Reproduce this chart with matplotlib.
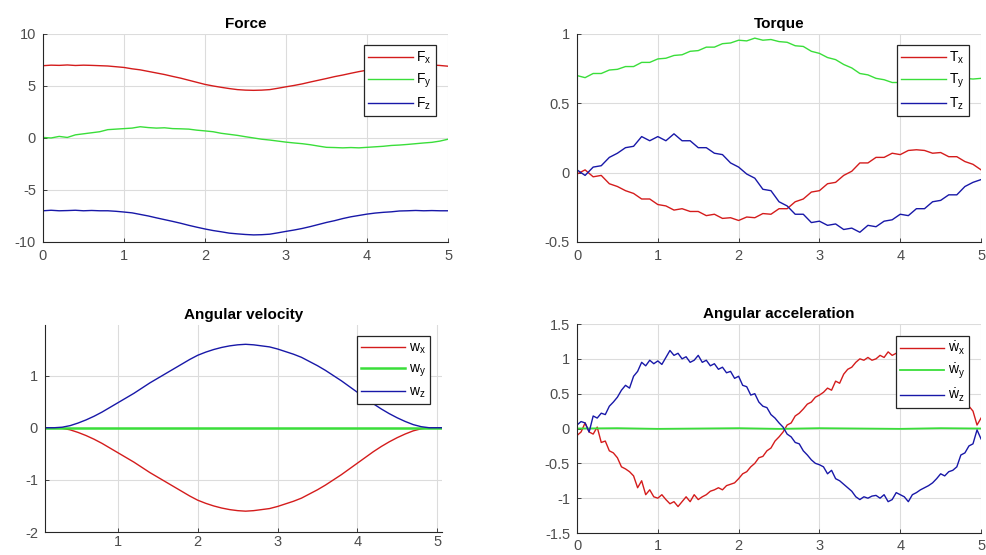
import matplotlib
matplotlib.use("Agg")
import matplotlib.pyplot as plt
from matplotlib.ticker import FormatStrFormatter

plt.rcParams["font.family"] = ["Liberation Sans", "DejaVu Sans"]
plt.rcParams["axes.unicode_minus"] = False
plt.rcParams["mathtext.fontset"] = "custom"
plt.rcParams["mathtext.rm"] = "Liberation Sans"

RED = "#d41c1c"
GREEN = "#3ade3a"
BLUE = "#1818a8"

# time grid for force / torque (0.1 s)
t = [round(0.1 * i, 2) for i in range(51)]

fx = [6.95, 7.0, 6.98, 7.02, 6.97, 7.0, 6.98, 6.95, 6.92, 6.85,
      6.78, 6.65, 6.55, 6.4, 6.25, 6.1, 5.92, 5.75, 5.55, 5.35,
      5.15, 5.0, 4.87, 4.75, 4.65, 4.6, 4.58, 4.6, 4.65, 4.78,
      4.92, 5.05, 5.2, 5.38, 5.55, 5.72, 5.9, 6.05, 6.22, 6.38,
      6.52, 6.65, 6.75, 6.85, 6.92, 6.96, 7.0, 6.98, 7.02, 6.97, 6.9]
fy = [0.05, 0.0, 0.15, 0.05, 0.3, 0.4, 0.5, 0.6, 0.8, 0.85,
      0.9, 0.95, 1.08, 1.0, 0.95, 0.98, 0.9, 0.88, 0.85, 0.75,
      0.68, 0.6, 0.45, 0.35, 0.25, 0.12, 0.0, -0.12, -0.2, -0.3,
      -0.4, -0.48, -0.55, -0.65, -0.78, -0.9, -0.92, -0.95, -0.92, -0.95,
      -0.9, -0.85, -0.8, -0.72, -0.68, -0.62, -0.55, -0.48, -0.42, -0.3, -0.12]
fz = [-7.0, -6.95, -7.0, -6.98, -6.95, -7.0, -6.97, -7.0, -7.0, -7.05,
      -7.12, -7.2, -7.35, -7.5, -7.68, -7.85, -8.02, -8.2, -8.4, -8.58,
      -8.75, -8.9, -9.02, -9.15, -9.22, -9.28, -9.32, -9.3, -9.25, -9.12,
      -8.98, -8.85, -8.7, -8.52, -8.32, -8.12, -7.95, -7.75, -7.58, -7.45,
      -7.32, -7.22, -7.15, -7.1, -7.02, -7.0, -6.97, -7.0, -6.98, -7.0, -7.0]

tx = [-0.01, 0.02, -0.03, -0.02, -0.08, -0.1, -0.13, -0.15, -0.19, -0.19,
      -0.23, -0.24, -0.27, -0.26, -0.28, -0.28, -0.31, -0.3, -0.33, -0.325,
      -0.345, -0.32, -0.325, -0.295, -0.3, -0.26, -0.26, -0.21, -0.19, -0.14,
      -0.13, -0.08, -0.07, -0.02, 0.01, 0.07, 0.07, 0.11, 0.11, 0.14,
      0.13, 0.16, 0.165, 0.16, 0.14, 0.145, 0.115, 0.115, 0.08, 0.06, 0.02]
ty = [0.7, 0.685, 0.715, 0.715, 0.74, 0.745, 0.765, 0.765, 0.795, 0.795,
      0.82, 0.825, 0.845, 0.85, 0.875, 0.88, 0.905, 0.905, 0.93, 0.935,
      0.955, 0.95, 0.97, 0.955, 0.96, 0.945, 0.94, 0.915, 0.91, 0.875,
      0.86, 0.83, 0.815, 0.78, 0.755, 0.715, 0.705, 0.68, 0.67, 0.65,
      0.65, 0.64, 0.655, 0.65, 0.665, 0.66, 0.675, 0.665, 0.68, 0.675, 0.68]
tz = [0.02, -0.02, 0.04, 0.05, 0.11, 0.14, 0.18, 0.19, 0.26, 0.23,
      0.26, 0.23, 0.28, 0.23, 0.23, 0.18, 0.18, 0.14, 0.13, 0.07,
      0.04, -0.01, -0.04, -0.12, -0.13, -0.21, -0.24, -0.3, -0.3, -0.36,
      -0.35, -0.38, -0.37, -0.41, -0.4, -0.43, -0.38, -0.39, -0.35, -0.34,
      -0.3, -0.31, -0.26, -0.26, -0.21, -0.2, -0.16, -0.16, -0.1, -0.07, -0.05]

# angular velocity (own time samples)
t_w = [0.08, 0.2, 0.3, 0.4, 0.5, 0.6, 0.7, 0.8, 0.9, 1.0,
       1.1, 1.2, 1.3, 1.4, 1.5, 1.6, 1.7, 1.8, 1.9, 2.0,
       2.1, 2.2, 2.3, 2.4, 2.5, 2.6, 2.7, 2.8, 2.9, 3.0,
       3.1, 3.2, 3.3, 3.4, 3.5, 3.6, 3.7, 3.8, 3.9, 4.0,
       4.1, 4.2, 4.3, 4.4, 4.5, 4.6, 4.7, 4.8, 4.9, 5.06]
wz = [0.0, 0.0, 0.01, 0.04, 0.09, 0.15, 0.22, 0.3, 0.39, 0.48,
      0.57, 0.66, 0.76, 0.86, 0.95, 1.04, 1.13, 1.22, 1.31, 1.39,
      1.45, 1.5, 1.54, 1.57, 1.59, 1.6, 1.59, 1.57, 1.55, 1.51,
      1.46, 1.41, 1.35, 1.27, 1.19, 1.1, 1.0, 0.9, 0.79, 0.68,
      0.57, 0.46, 0.36, 0.27, 0.19, 0.12, 0.06, 0.02, 0.0, 0.0]
wx = [0.0, 0.0, -0.01, -0.04, -0.09, -0.15, -0.22, -0.3, -0.39, -0.48,
      -0.57, -0.66, -0.76, -0.86, -0.95, -1.04, -1.13, -1.22, -1.31, -1.39,
      -1.45, -1.5, -1.54, -1.57, -1.59, -1.6, -1.59, -1.57, -1.55, -1.51,
      -1.46, -1.41, -1.35, -1.27, -1.19, -1.1, -1.0, -0.9, -0.79, -0.68,
      -0.57, -0.46, -0.36, -0.27, -0.19, -0.12, -0.06, -0.02, 0.0, 0.0]
t_wy = [0.08, 5.06]
wy = [0.0, 0.0]

# angular acceleration (0.05 s)
t_a = [round(0.05 * i, 2) for i in range(101)]
adx = [-0.1, -0.05, 0.08, -0.05, -0.08, 0.02, -0.2, -0.18, -0.32, -0.35,
       -0.42, -0.55, -0.58, -0.62, -0.68, -0.85, -0.75, -0.95, -0.88, -0.98,
       -1.0, -0.95, -1.02, -1.08, -1.05, -1.12, -1.05, -0.98, -1.05, -0.95,
       -1.02, -0.98, -0.95, -0.9, -0.88, -0.85, -0.88, -0.82, -0.8, -0.78,
       -0.72, -0.65, -0.62, -0.55, -0.5, -0.42, -0.4, -0.32, -0.28, -0.18,
       -0.12, -0.05, 0.05, 0.08, 0.18, 0.22, 0.28, 0.35, 0.38, 0.45,
       0.48, 0.52, 0.58, 0.55, 0.68, 0.65, 0.78, 0.85, 0.88, 0.95,
       1.0, 0.98, 1.02, 0.98, 1.0, 1.05, 1.02, 1.1, 1.05, 1.08,
       1.0, 0.98, 1.02, 0.95, 0.92, 0.88, 0.85, 0.8, 0.78, 0.7,
       0.68, 0.6, 0.55, 0.5, 0.45, 0.4, 0.3, 0.32, 0.25, 0.05, 0.15]
adz = [0.05, 0.1, 0.08, -0.05, 0.18, 0.15, 0.22, 0.2, 0.32, 0.38,
       0.45, 0.55, 0.62, 0.58, 0.75, 0.82, 0.95, 0.9, 0.98, 0.93,
       0.97, 0.92, 1.02, 1.12, 1.05, 1.08, 1.0, 1.03, 0.95, 0.98,
       1.05, 0.95, 0.98, 0.9, 0.93, 0.85, 0.88, 0.8, 0.82, 0.72,
       0.75, 0.62, 0.6, 0.48, 0.5, 0.38, 0.32, 0.3, 0.2, 0.15,
       0.08, 0.02, -0.08, -0.12, -0.2, -0.22, -0.32, -0.38, -0.45, -0.5,
       -0.52, -0.55, -0.65, -0.6, -0.72, -0.75, -0.8, -0.85, -0.9, -0.98,
       -1.02, -0.98, -1.0, -0.97, -0.96, -1.0, -0.95, -1.05, -1.02, -0.92,
       -0.95, -0.98, -1.05, -0.95, -0.92, -0.88, -0.85, -0.82, -0.78, -0.72,
       -0.65, -0.68, -0.62, -0.6, -0.55, -0.38, -0.35, -0.25, -0.22, -0.02, -0.15]
t_ay = [0.0, 0.5, 1.0, 1.5, 2.0, 2.5, 3.0, 3.5, 4.0, 4.5, 5.0]
ady = [0.0, 0.005, -0.005, 0.0, 0.005, -0.005, 0.005, 0.0, -0.005, 0.005, 0.0]


def style(ax, title, xlim, ylim, yticks, xticks):
    ax.set_title(title, fontsize=11, fontweight="bold", pad=4)
    ax.set_xlim(*xlim)
    ax.set_ylim(*ylim)
    ax.set_yticks(yticks)
    ax.set_xticks(xticks)
    ax.xaxis.set_major_formatter(FormatStrFormatter("%g"))
    ax.yaxis.set_major_formatter(FormatStrFormatter("%g"))
    ax.grid(True, color="#dcdcdc", linewidth=0.8)
    ax.set_axisbelow(True)
    for side in ("top", "right"):
        ax.spines[side].set_visible(False)
    for side in ("left", "bottom"):
        ax.spines[side].set_color("#262626")
        ax.spines[side].set_linewidth(0.8)
    ax.tick_params(direction="in", length=3, width=0.6, color="#262626",
                   labelsize=10.5, labelcolor="#4d4d4d", pad=5)


def legend(ax):
    leg = ax.legend(loc="upper right", bbox_to_anchor=(0.97, 0.945), fontsize=10,
                    handlelength=3.2, handletextpad=0.25, borderpad=0.3,
                    labelspacing=0.4, fancybox=False, framealpha=1,
                    borderaxespad=0)
    leg.get_frame().set_edgecolor("#262626")
    leg.get_frame().set_linewidth(0.9)


fig = plt.figure(figsize=(9.86, 5.55), dpi=100)

ax1 = fig.add_axes([0.0436, 0.564, 0.4108, 0.3748])
ax1.plot(t, fx, color=RED, lw=1, label=r"F$_\mathregular{x}$")
ax1.plot(t, fy, color=GREEN, lw=1, label=r"F$_\mathregular{y}$")
ax1.plot(t, fz, color=BLUE, lw=1, label=r"F$_\mathregular{z}$")
style(ax1, "Force", (0, 5), (-10, 10), [-10, -5, 0, 5, 10], [0, 1, 2, 3, 4, 5])
legend(ax1)

ax2 = fig.add_axes([0.5852, 0.564, 0.4098, 0.3748])
ax2.plot(t, tx, color=RED, lw=1, label=r"T$_\mathregular{x}$")
ax2.plot(t, ty, color=GREEN, lw=1, label=r"T$_\mathregular{y}$")
ax2.plot(t, tz, color=BLUE, lw=1, label=r"T$_\mathregular{z}$")
style(ax2, "Torque", (0, 5), (-0.5, 1), [-0.5, 0, 0.5, 1], [0, 1, 2, 3, 4, 5])
legend(ax2)

ax3 = fig.add_axes([0.0456, 0.0414, 0.4026, 0.373])
ax3.plot(t_w, wx, color=RED, lw=1, label=r"w$_\mathregular{x}$")
ax3.plot(t_wy, wy, color=GREEN, lw=1.8, label=r"w$_\mathregular{y}$")
ax3.plot(t_w, wz, color=BLUE, lw=1, label=r"w$_\mathregular{z}$")
style(ax3, "Angular velocity", (0.085, 5.06), (-2, 1.97), [-2, -1, 0, 1], [1, 2, 3, 4, 5])
ax3.tick_params(axis="x", pad=2)
legend(ax3)

ax4 = fig.add_axes([0.5852, 0.0396, 0.4098, 0.3766])
ax4.plot(t_a, adx, color=RED, lw=1, label=r"$\mathregular{\dot{w}_x}$")
ax4.plot(t_ay, ady, color=GREEN, lw=1.3, label=r"$\mathregular{\dot{w}_y}$")
ax4.plot(t_a, adz, color=BLUE, lw=1, label=r"$\mathregular{\dot{w}_z}$")
style(ax4, "Angular acceleration", (0, 5), (-1.5, 1.5),
      [-1.5, -1, -0.5, 0, 0.5, 1, 1.5], [0, 1, 2, 3, 4, 5])
ax4.tick_params(axis="x", pad=4)
legend(ax4)

fig.savefig("out.png", dpi=100)
